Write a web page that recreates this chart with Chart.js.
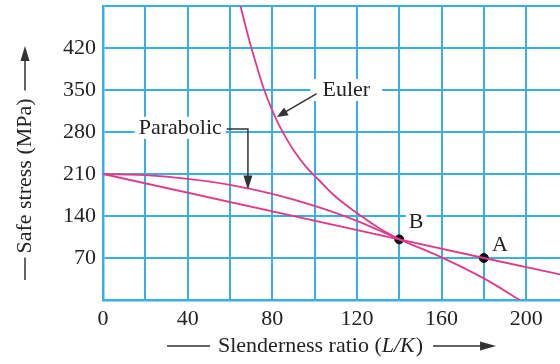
<!DOCTYPE html>
<html>
<head>
<meta charset="utf-8">
<script src="https://cdn.jsdelivr.net/npm/chart.js@4/dist/chart.umd.min.js"></script>
<style>
  html, body { margin: 0; padding: 0; background: #fff; }
  #chart { display: block; }
</style>
</head>
<body>
<canvas id="chart" width="560" height="364"></canvas>
<script>
// Safe stress vs slenderness ratio

const GRID = '#3aaee6';
const CURVE = '#e0398a';
const FONT = "'Liberation Serif', 'DejaVu Serif', serif";
const FS = 22;

// Euler curve (stops at B)
const eulerX = [65, 67.5, 70, 73, 76, 80, 84, 90, 96, 102, 110, 120, 130, 140];
const eulerY = [490, 455, 422, 386, 352, 316, 286, 250, 222, 200, 172, 145, 121, 101];

// Parabolic formula
const parabX = [0, 20, 40, 60, 80, 100, 120, 140, 160, 180, 197];
const parabY = [210, 208, 202, 192, 177, 157, 132, 101, 71, 36, 0];

// Straight line
const lineX = [0, 140, 180, 217];
const lineY = [210, 101, 70, 42];

// Marked points
const pointLabels = ['B', 'A'];
const pointX = [140, 180];
const pointY = [101, 70];

const xTicks = [0, 40, 80, 120, 160, 200];
const yTicks = [70, 140, 210, 280, 350, 420];

function toXY(xs, ys) {
    return xs.map((x, i) => ({ x: x, y: ys[i] }));
}

function arrowHead(ctx, x1, y1, x2, y2, len, half) {
    const a = Math.atan2(y2 - y1, x2 - x1);
    ctx.beginPath();
    ctx.moveTo(x2, y2);
    ctx.lineTo(x2 - len * Math.cos(a) + half * Math.sin(a), y2 - len * Math.sin(a) - half * Math.cos(a));
    ctx.lineTo(x2 - len * Math.cos(a) - half * Math.sin(a), y2 - len * Math.sin(a) + half * Math.cos(a));
    ctx.closePath();
    ctx.fill();
}

function boxedText(ctx, text, px, py, padX) {
    const w = ctx.measureText(text).width;
    ctx.fillStyle = '#fff';
    ctx.fillRect(px - w / 2 - padX, py - 11, w + 2 * padX, 22);
    ctx.fillStyle = '#222';
    ctx.fillText(text, px, py);
}

const annotations = {
    id: 'annotations',
    afterDatasetsDraw(chart) {
        const ctx = chart.ctx;
        const xs = chart.scales.x, ys = chart.scales.y;
        const X = v => xs.getPixelForValue(v);
        const Y = v => ys.getPixelForValue(v);
        ctx.save();
        ctx.font = FS + 'px ' + FONT;
        ctx.textAlign = 'center';
        ctx.textBaseline = 'middle';

        // Euler label with arrow
        boxedText(ctx, 'Euler', X(115), Y(350), 12);
        ctx.strokeStyle = '#333';
        ctx.fillStyle = '#333';
        ctx.lineWidth = 1.5;
        ctx.beginPath();
        ctx.moveTo(X(101), Y(344));
        ctx.lineTo(X(84), Y(309));
        ctx.stroke();
        arrowHead(ctx, X(101), Y(344), X(82.2), Y(305), 11, 4.5);

        // Parabolic label with leader
        boxedText(ctx, 'Parabolic', X(36.5), Y(287), 4);
        ctx.strokeStyle = '#333';
        ctx.fillStyle = '#333';
        ctx.beginPath();
        ctx.moveTo(X(58.5), Y(285));
        ctx.lineTo(X(68.5), Y(285));
        ctx.lineTo(X(68.5), Y(196));
        ctx.stroke();
        arrowHead(ctx, X(68.5), Y(285), X(68.5), Y(184), 14, 4.5);

        // Point labels
        boxedText(ctx, pointLabels[0], X(pointX[0]) + 17, Y(pointY[0]) - 17, 3);
        ctx.fillStyle = '#222';
        ctx.fillText(pointLabels[1], X(pointX[1]) + 16, Y(pointY[1]) - 13);

        // Axis titles
        ctx.strokeStyle = '#333';
        ctx.fillStyle = '#222';
        ctx.font = FS + 'px ' + FONT;
        const tx = 'Slenderness ratio (';
        const ty = 346;
        let cx = 218;
        ctx.textAlign = 'left';
        ctx.fillText(tx, cx, ty);
        cx += ctx.measureText(tx).width;
        ctx.font = 'italic ' + FS + 'px ' + FONT;
        ctx.fillText('L/K', cx, ty);
        cx += ctx.measureText('L/K').width + 1;
        ctx.font = FS + 'px ' + FONT;
        ctx.fillText(')', cx, ty);
        cx += ctx.measureText(')').width;
        ctx.beginPath();
        ctx.moveTo(167, ty); ctx.lineTo(210, ty);
        ctx.moveTo(cx + 10, ty); ctx.lineTo(cx + 60, ty);
        ctx.stroke();
        ctx.fillStyle = '#333';
        arrowHead(ctx, cx + 10, ty, cx + 73, ty, 16, 4.5);

        ctx.save();
        ctx.translate(25, 0);
        ctx.rotate(-Math.PI / 2);
        ctx.fillStyle = '#222';
        ctx.textAlign = 'center';
        const yt = 'Safe stress (MPa)';
        ctx.fillText(yt, -176, 0);
        const hw = ctx.measureText(yt).width / 2;
        ctx.beginPath();
        ctx.moveTo(-176 - hw - 4, 0); ctx.lineTo(-280, 0);
        ctx.moveTo(-176 + hw + 8, 0); ctx.lineTo(-60, 0);
        ctx.stroke();
        ctx.fillStyle = '#333';
        arrowHead(ctx, -176 + hw + 8, 0, -46, 0, 15, 4.5);
        ctx.restore();

        ctx.restore();
    }
};

const ctx = document.getElementById('chart').getContext('2d');
new Chart(ctx, {
    type: 'scatter',
    data: {
        datasets: [
            {
                label: 'Euler',
                data: toXY(eulerX, eulerY),
                showLine: true,
                borderColor: CURVE,
                borderWidth: 1.8,
                pointRadius: 0,
                tension: 0.4,
            },
            {
                label: 'Parabolic',
                data: toXY(parabX, parabY),
                showLine: true,
                borderColor: CURVE,
                borderWidth: 1.8,
                pointRadius: 0,
                tension: 0.4,
            },
            {
                label: 'Straight line',
                data: toXY(lineX, lineY),
                showLine: true,
                borderColor: CURVE,
                borderWidth: 1.8,
                pointRadius: 0,
            },
            {
                label: 'Points',
                data: toXY(pointX, pointY),
                showLine: false,
                pointRadius: 4.5,
                pointBackgroundColor: '#111',
                pointBorderColor: '#111',
            }
        ]
    },
    options: {
        responsive: false,
        animation: false,
        layout: { autoPadding: false, padding: { top: 6, right: 0, left: 0, bottom: 0 } },
        plugins: {
            legend: { display: false },
            tooltip: { enabled: false }
        },
        scales: {
            x: {
                type: 'linear',
                min: 0,
                max: 216,
                afterBuildTicks: s => { s.ticks = [0, 20, 40, 60, 80, 100, 120, 140, 160, 180, 200].map(v => ({ value: v })); },
                afterFit: s => { s.height = 64; s.paddingLeft = 0; s.paddingRight = 0; },
                grid: { color: GRID, lineWidth: 2, drawTicks: false },
                border: { color: GRID, width: 2.5 },
                ticks: {
                    padding: 6,
                    color: '#222',
                    font: { family: FONT, size: FS },
                    maxRotation: 0,
                    autoSkip: false,
                    callback: v => xTicks.includes(v) ? String(v) : ''
                }
            },
            y: {
                type: 'linear',
                min: 0,
                max: 490,
                afterBuildTicks: s => { s.ticks = [0, 70, 140, 210, 280, 350, 420, 490].map(v => ({ value: v })); },
                afterFit: s => { s.width = 103; s.paddingTop = 0; s.paddingBottom = 0; },
                grid: { color: GRID, lineWidth: 2, drawTicks: false },
                border: { color: GRID, width: 2.5 },
                ticks: {
                    padding: 7,
                    color: '#222',
                    font: { family: FONT, size: FS },
                    autoSkip: false,
                    callback: v => yTicks.includes(v) ? String(v) : ''
                }
            }
        }
    },
    plugins: [annotations]
});
</script>
</body>
</html>
